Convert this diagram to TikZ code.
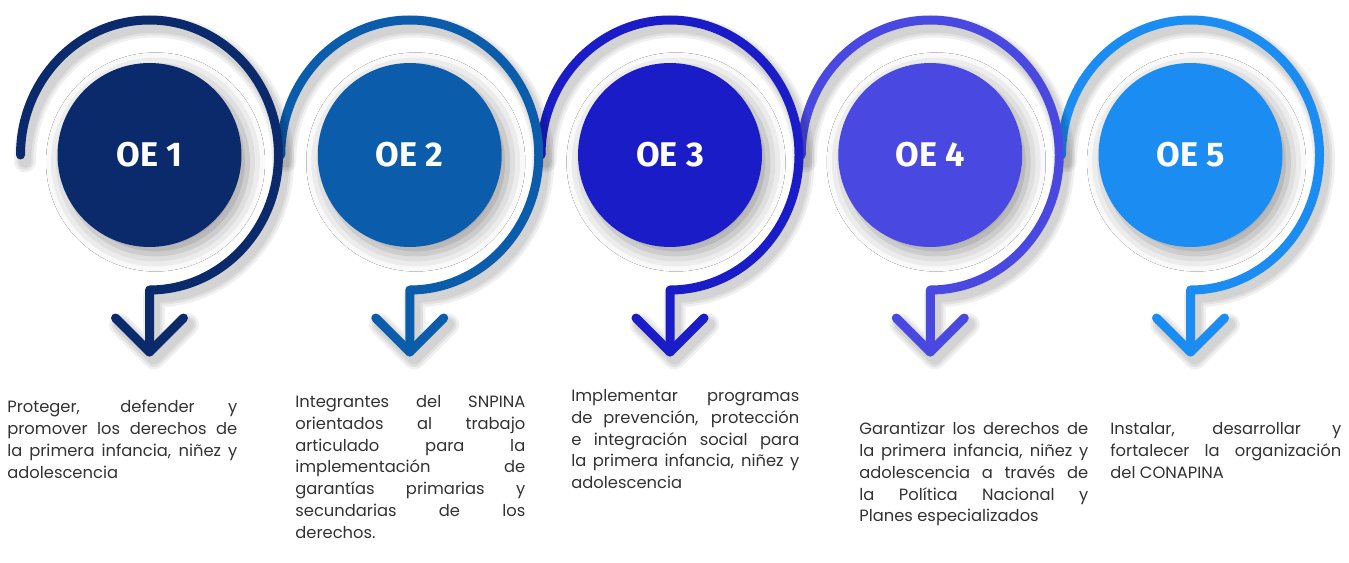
\documentclass[tikz,border=0pt]{standalone}
\usepackage{fontspec}
\usepackage{xcolor}
\usetikzlibrary{shadows.blur}
\setmainfont{Poppins}
\newfontfamily\oefont{Fira Sans}

\definecolor{oeone}{HTML}{0B2A6C}
\definecolor{oetwo}{HTML}{0B5CAB}
\definecolor{oethree}{HTML}{1A1DC7}
\definecolor{oefour}{HTML}{4949E2}
\definecolor{oefive}{HTML}{1A8CF2}
\definecolor{txtgray}{HTML}{333333}

\tikzset{
    oecirc/.style={circle, fill=#1, inner sep=0pt, minimum size=3.68cm,
        text=white, font=\oefont\bfseries\fontsize{19.5}{22}\selectfont,
        blur shadow={shadow xshift=0.12cm, shadow yshift=-0.14cm,
            shadow blur radius=0.35cm, shadow opacity=40}},
    oearc/.style={draw=#1, line width=0.18cm, line cap=round, line join=round},
    oeshade/.style={draw=black, opacity=0.06, line width=#1, line cap=round,
        line join=round, transform canvas={xshift=0.09cm, yshift=-0.13cm}},
    oetxt/.style={anchor=north west, inner sep=0pt, text width=#1, align=justify,
        font=\fontsize{9.3}{12.4}\selectfont, text=txtgray,
        execute at begin node={\tolerance=10000\hyphenpenalty=10000}},
}

\begin{document}
\begin{tikzpicture}[x=0.02cm, y=0.02cm]
    \path[fill=white, use as bounding box] (0,0) rectangle (1349,562);

    % circles
    \foreach \i/\col in {1/oeone,2/oetwo,3/oethree,4/oefour,5/oefive} {
        \node[oecirc=\col] (oe\i) at ({149.5+260.25*(\i-1)},407) {OE \i};
        \coordinate (tip\i) at ({149.5+260.25*(\i-1)},210);
    }

    % arcs and arrows, right one first so the left one lies on top
    \foreach \i/\col in {5/oefive,4/oefour,3/oethree,2/oetwo,1/oeone} {
        \foreach \w in {0.44cm,0.34cm,0.25cm}
            \draw[oeshade=\w] (oe\i.center) ++(-129,0)
                arc[start angle=180, end angle=-90, x radius=129, y radius=135]
                -- (tip\i) ++(-34,34) -- (tip\i) -- ++(34,34);
        \draw[oearc=\col] (oe\i.center) ++(-129,0)
            arc[start angle=180, end angle=-90, x radius=129, y radius=135]
            -- (tip\i);
        \draw[oearc=\col] (tip\i) ++(-34,34) -- (tip\i) -- ++(34,34);
    }

    % texts
    \node[oetxt=4.6cm] (txt1) at (7,162) {Proteger, defender y\linebreak
        promover los derechos de\linebreak la primera infancia, niñez y\linebreak
        adolescencia};
    \node[oetxt=4.6cm] (txt2) at (295,167) {Integrantes del SNPINA\linebreak
        orientados al trabajo\linebreak articulado para la\linebreak
        implementación de\linebreak garantías primarias y\linebreak
        secundarias de los\linebreak derechos.};
    \node[oetxt=4.56cm] (txt3) at (571,173) {Implementar programas\linebreak
        de prevención, protección\linebreak e integración social para\linebreak
        la primera infancia, niñez y\linebreak adolescencia};
    \node[oetxt=4.58cm] (txt4) at (859,140) {Garantizar los derechos de\linebreak
        la primera infancia, niñez y\linebreak adolescencia a través de\linebreak
        la Política Nacional y\linebreak Planes especializados};
    \node[oetxt=4.62cm] (txt5) at (1110,140) {Instalar, desarrollar y\linebreak
        fortalecer la organización\linebreak del CONAPINA};
\end{tikzpicture}
\end{document}
